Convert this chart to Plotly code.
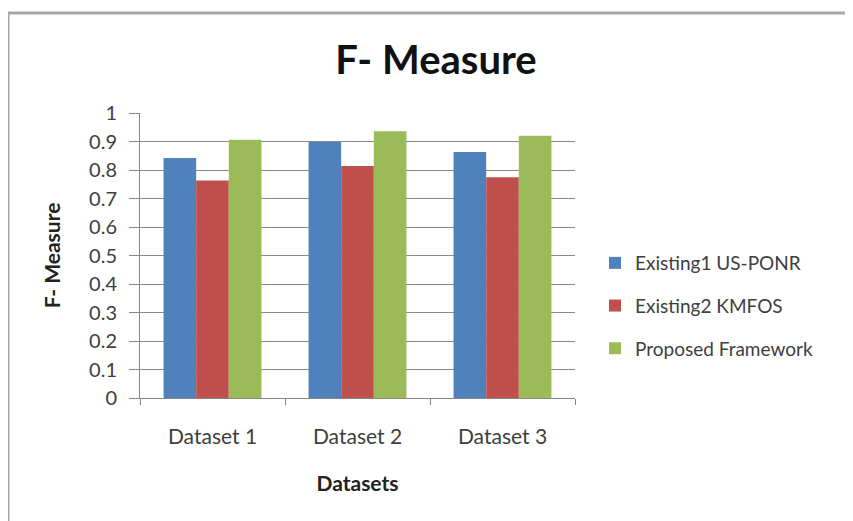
import plotly.graph_objects as go

categories = ["Dataset 1", "Dataset 2", "Dataset 3"]
series_names = ["Existing1 US-PONR", "Existing2 KMFOS", "Proposed Framework"]
existing1 = [0.842, 0.898, 0.863]
existing2 = [0.763, 0.814, 0.775]
proposed = [0.906, 0.936, 0.920]
colors = ["#4F81BD", "#C0504D", "#9BBB59"]

FONT = "Lato"
OFF = 8  # default page body margin
fig = go.Figure()
for i, (name, vals) in enumerate(zip(series_names, [existing1, existing2, proposed])):
    fig.add_trace(go.Bar(x=categories, y=vals, name=name, marker_color=colors[i],
                         marker_line_width=0, legendgroup=f"g{i}"))

W, H = 853 - OFF, 521 - OFF
L = 140 - OFF
R = W - (575 - OFF)
T = 113 - OFF
B = H - (398 - OFF)
pw, ph = W - L - R, H - T - B

def px_x(x):
    return (x - OFF - L) / pw

def px_y(y):
    return (H - B - (y - OFF)) / ph

fig.update_layout(
    width=W, height=H,
    margin=dict(l=L, r=R, t=T, b=B),
    paper_bgcolor="white", plot_bgcolor="white",
    barmode="group", bargap=0.325, bargroupgap=0,
    font=dict(family=FONT, color="#404040", size=20),
    title=dict(text="<b>F- Measure</b>", x=px_x(436), xref="paper", xanchor="center",
               y=1 - (60 - OFF) / H, yanchor="middle", font=dict(size=40, color="#111111", family=FONT)),
    xaxis=dict(showline=True, linecolor="#868686", linewidth=1, ticks="outside", ticklen=6,
               tickcolor="#868686", tickson="boundaries", tickfont=dict(size=21),
               ticklabelstandoff=20,
               title=dict(text="<b>Datasets</b>", font=dict(size=21, color="#222"), standoff=29)),
    yaxis=dict(range=[0, 1], dtick=0.1, showline=True, linecolor="#868686", linewidth=1,
               ticks="outside", ticklen=10, tickcolor="#868686", gridcolor="#8a8a8a", gridwidth=1,
               tickfont=dict(size=20), tickformat="~g", zeroline=False, ticklabelstandoff=8,
               title=dict(text="<b>F- Measure</b>", font=dict(size=21, color="#222"), standoff=22)),
    legend=dict(x=px_x(595), xanchor="left", y=px_y(244), yanchor="top",
                font=dict(size=19, color="#404040"), tracegroupgap=15, itemwidth=30,
                bgcolor="rgba(0,0,0,0)"),
    showlegend=True,
)

# chart border (top and left edges visible)
fig.add_shape(type="line", xref="paper", yref="paper", x0=px_x(8), x1=px_x(870),
              y0=px_y(13), y1=px_y(13), line=dict(color="#a6a6a6", width=3))
fig.add_shape(type="line", xref="paper", yref="paper", x0=px_x(8), x1=px_x(8),
              y0=px_y(13), y1=px_y(540), line=dict(color="#a6a6a6", width=3))

fig.write_html("out.html")
